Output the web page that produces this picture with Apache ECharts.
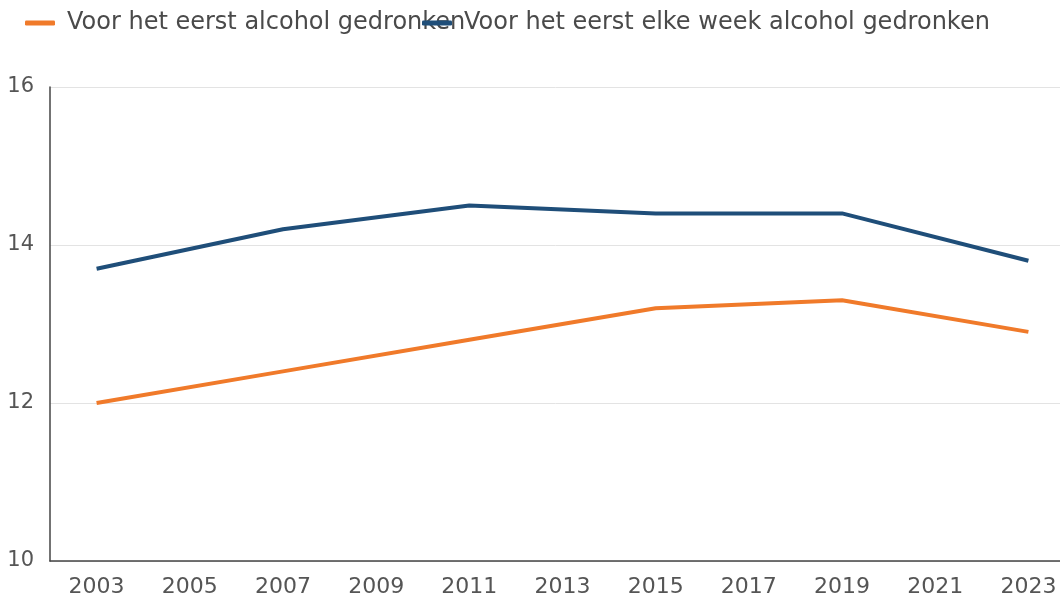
<!DOCTYPE html>
<html>
<head>
<meta charset="utf-8">
<script src="https://cdn.jsdelivr.net/npm/echarts@6/dist/echarts.min.js"></script>
<style>
  html, body { margin: 0; padding: 0; background: #fff; }
  #chart { width: 1060px; height: 601px; }
</style>
</head>
<body>
<div id="chart"></div>
<script>
const years = ['2003', '2005', '2007', '2009', '2011', '2013', '2015', '2017', '2019', '2021', '2023'];
// measured every four years; odd slots stay empty and the line bridges them
const firstDrink = [12.0, null, 12.4, null, 12.8, null, 13.2, null, 13.3, null, 12.9];
const firstWeekly = [13.7, null, 14.2, null, 14.5, null, 14.4, null, 14.4, null, 13.8];
const yTicks = [10, 12, 14, 16];

const seriesNames = ['Voor het eerst alcohol gedronken', 'Voor het eerst elke week alcohol gedronken'];
const colors = ['#f07a2a', '#1f4e79'];
const fontFamily = '"DejaVu Sans", sans-serif';

const chart = echarts.init(document.getElementById('chart'));

const legendBase = {
  top: 6,
  icon: 'roundRect',
  itemWidth: 30,
  itemHeight: 5,
  itemGap: 0,
  textStyle: { color: '#4a4a4a', fontSize: 24, fontFamily: fontFamily, padding: [0, 0, 0, 7] }
};

chart.setOption({
  animation: false,
  color: colors,
  legend: [
    Object.assign({}, legendBase, { left: 20, data: [seriesNames[0]] }),
    Object.assign({}, legendBase, { left: 417, data: [seriesNames[1]] })
  ],
  grid: {
    left: 50,
    top: 87,
    bottom: 40,
    right: -15,
    outerBoundsMode: 'none',
    containLabel: false
  },
  xAxis: {
    type: 'category',
    data: years,
    boundaryGap: true,
    axisLine: { lineStyle: { color: '#444', width: 1.5 } },
    axisTick: { alignWithLabel: true, length: 9, lineStyle: { color: '#444', width: 1.5 } },
    axisLabel: { color: '#555', fontSize: 22, fontFamily: fontFamily, margin: 15, interval: 0 }
  },
  yAxis: {
    type: 'value',
    min: yTicks[0],
    max: yTicks[yTicks.length - 1],
    interval: 2,
    axisLine: { show: true, lineStyle: { color: '#444', width: 1.5 } },
    axisTick: { show: false },
    axisLabel: { color: '#555', fontSize: 21, fontFamily: fontFamily, margin: 16 },
    splitLine: { lineStyle: { color: '#e3e3e3', width: 1 } }
  },
  series: [
    {
      name: seriesNames[0],
      type: 'line',
      data: firstDrink,
      connectNulls: true,
      showSymbol: false,
      lineStyle: { width: 4, color: colors[0] },
      itemStyle: { color: colors[0] }
    },
    {
      name: seriesNames[1],
      type: 'line',
      data: firstWeekly,
      connectNulls: true,
      showSymbol: false,
      lineStyle: { width: 4, color: colors[1] },
      itemStyle: { color: colors[1] }
    }
  ]
});
</script>
</body>
</html>
